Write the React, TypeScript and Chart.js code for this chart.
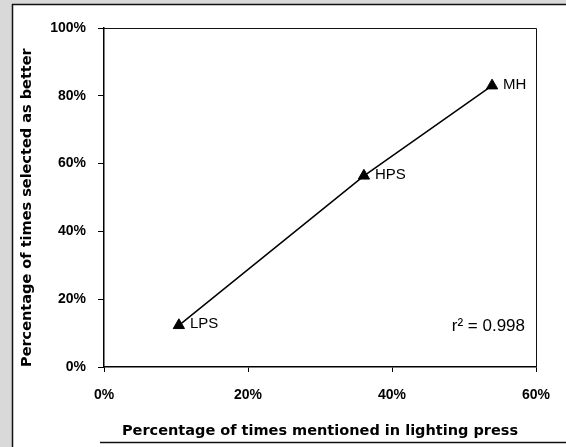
import React, { useEffect, useRef } from 'react';
import { Chart, registerables } from 'chart.js';

Chart.register(...registerables);

// Data
const pointLabels = ['LPS', 'HPS', 'MH'];
const mentionedInPressPct = [10.4, 36.1, 53.9];
const selectedAsBetterPct = [12.3, 56.4, 83.0];
const xTickValues = [0, 20, 40, 60];
const yTickValues = [0, 20, 40, 60, 80, 100];
const rSquaredText = 'r\u00B2 = 0.998';
const xTitle = 'Percentage of times mentioned in lighting press';
const yTitle = 'Percentage of times selected as better';

const sans = '"Liberation Sans", Arial, sans-serif';
const wide = '"DejaVu Sans", sans-serif';
const tickFont = { family: sans, size: 14, weight: 'bold' as const };
const titleFont = { family: wide, size: 14.5, weight: 'bold' as const };

const framePlugin = {
  id: 'frame',
  beforeDraw(chart: any) {
    const { ctx, width, height } = chart;
    ctx.save();
    ctx.fillStyle = '#ffffff';
    ctx.fillRect(0, 0, width, height);
    ctx.fillStyle = '#d9d9d9';
    ctx.fillRect(0, 0, 12, height);
    ctx.fillRect(0, 0, width, 4);
    ctx.strokeStyle = '#111';
    ctx.lineWidth = 1.5;
    ctx.beginPath();
    ctx.moveTo(12.5, 4);
    ctx.lineTo(12.5, height);
    ctx.moveTo(12, 4.5);
    ctx.lineTo(width, 4.5);
    ctx.moveTo(100, height - 4.5);
    ctx.lineTo(width, height - 4.5);
    ctx.stroke();
    ctx.restore();
  },
  afterDraw(chart: any) {
    const { ctx, chartArea } = chart;
    ctx.save();
    ctx.strokeStyle = '#111';
    ctx.lineWidth = 1;
    ctx.beginPath();
    ctx.moveTo(chartArea.left, chartArea.top + 0.5);
    ctx.lineTo(chartArea.right + 0.5, chartArea.top + 0.5);
    ctx.lineTo(chartArea.right + 0.5, chartArea.bottom);
    ctx.stroke();
    ctx.restore();
  },
};

const labelPlugin = {
  id: 'pointLabels',
  afterDatasetsDraw(chart: any) {
    const { ctx, chartArea } = chart;
    const meta = chart.getDatasetMeta(0);
    ctx.save();
    ctx.fillStyle = '#000';
    ctx.font = '15px ' + sans;
    ctx.textAlign = 'left';
    ctx.textBaseline = 'middle';
    meta.data.forEach((pt: any, i: number) => {
      ctx.fillText(pointLabels[i], pt.x + 11, pt.y - 1);
    });
    ctx.font = '17px ' + sans;
    ctx.textAlign = 'right';
    ctx.fillText(rSquaredText, chartArea.right - 11, chartArea.bottom - 41);
    ctx.restore();
  },
};

export default function App() {
  const ref = useRef<HTMLCanvasElement | null>(null);

  useEffect(() => {
    document.body.style.margin = '0';
    const canvas = ref.current;
    if (!canvas) return;
    const chart = new Chart(canvas, {
      type: 'scatter',
      data: {
        datasets: [
          {
            data: mentionedInPressPct.map((x, i) => ({ x, y: selectedAsBetterPct[i] })),
            showLine: true,
            borderColor: '#000',
            borderWidth: 1.5,
            pointStyle: 'triangle',
            pointRadius: 6.5,
            pointBackgroundColor: '#000',
            pointBorderColor: '#000',
            pointBorderWidth: 1,
          },
        ],
      },
      options: {
        animation: false,
        responsive: false,
        devicePixelRatio: 1,
        layout: { padding: { left: 0, right: 30, top: 28, bottom: 0 } },
        plugins: { legend: { display: false }, tooltip: { enabled: false } },
        scales: {
          x: {
            type: 'linear',
            min: 0,
            max: 60,
            afterBuildTicks: (s: any) => {
              s.ticks = xTickValues.map((v) => ({ value: v }));
            },
            afterFit: (s: any) => {
              s.height = 80;
            },
            ticks: {
              color: '#000',
              font: tickFont,
              padding: 15,
              callback: (v: any) => v + '%',
            },
            grid: { drawOnChartArea: false, drawTicks: true, tickLength: 5, color: '#000' },
            border: { display: true, color: '#000', width: 1.5 },
            title: {
              display: true,
              text: xTitle,
              color: '#000',
              font: titleFont,
              padding: { top: 0, bottom: 7 },
            },
          },
          y: {
            type: 'linear',
            min: 0,
            max: 100,
            afterBuildTicks: (s: any) => {
              s.ticks = yTickValues.map((v) => ({ value: v }));
            },
            afterFit: (s: any) => {
              s.width = 104;
            },
            ticks: {
              color: '#000',
              font: tickFont,
              padding: 12,
              callback: (v: any) => v + '%',
            },
            grid: { drawOnChartArea: false, drawTicks: true, tickLength: 6, color: '#000' },
            border: { display: true, color: '#000', width: 1.5 },
            title: {
              display: true,
              text: yTitle,
              color: '#000',
              font: titleFont,
              align: 'start',
              padding: { top: 19, bottom: 0 },
            },
          },
        },
      },
      plugins: [framePlugin, labelPlugin],
    } as any);
    return () => chart.destroy();
  }, []);

  return <canvas ref={ref} width={566} height={447} style={{ display: 'block', width: 566, height: 447 }} />;
}
